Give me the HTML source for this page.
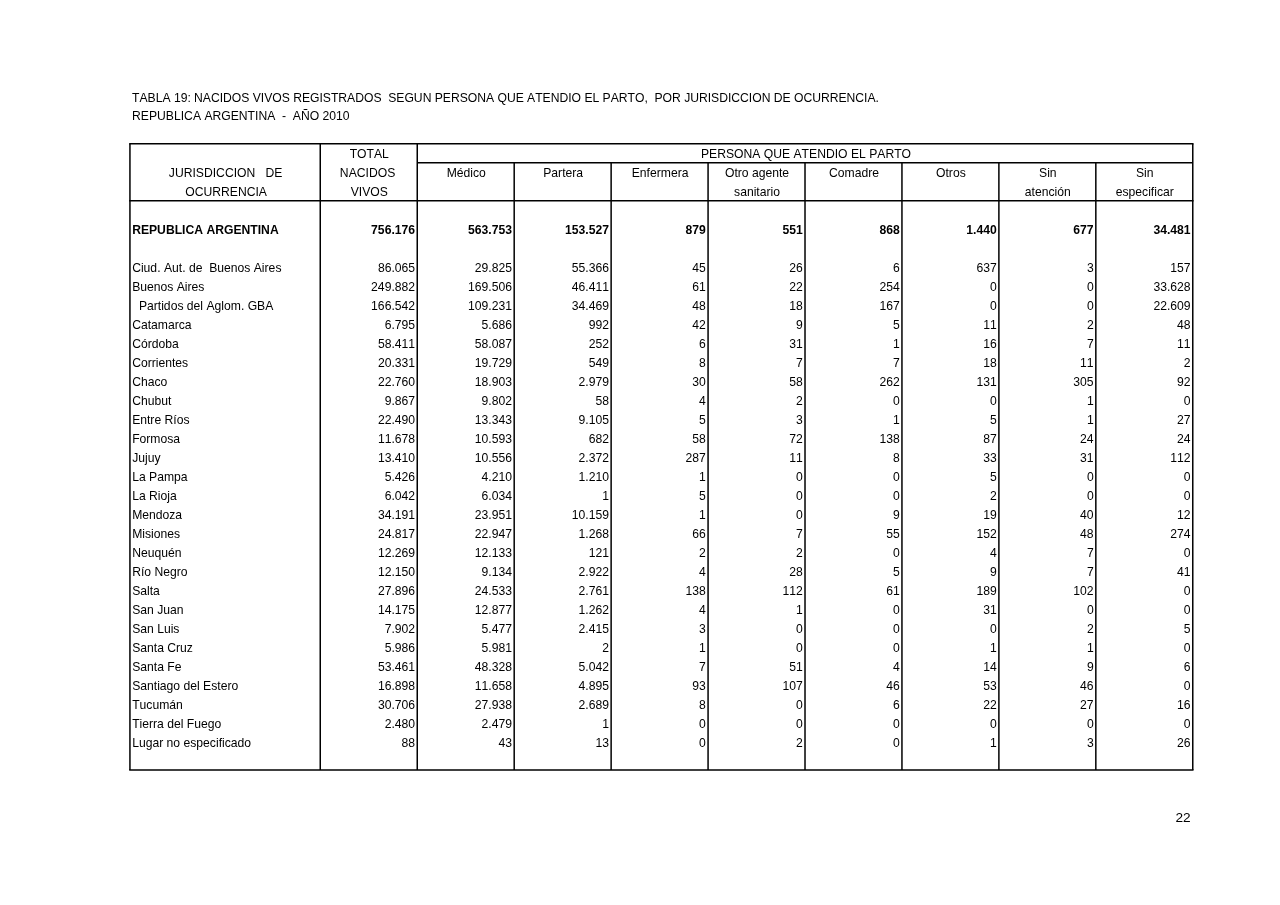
<!DOCTYPE html>
<html><head><meta charset="utf-8"><title>Tabla 19</title>
<style>
html,body{margin:0;padding:0;background:#fff;}
body{width:1280px;height:905px;position:relative;overflow:hidden;font-family:"Liberation Sans",sans-serif;font-size:12.16px;color:#000;}
#tx{position:absolute;left:0;top:0;width:1280px;height:905px;will-change:transform;transform:translateZ(0);}
.t{position:absolute;white-space:pre;line-height:19px;height:19px;font-kerning:none;font-variant-ligatures:none;font-feature-settings:"kern" 0,"liga" 0,"clig" 0;}
svg{position:absolute;left:0;top:0;}
svg line{stroke:#000;stroke-width:1.5;}
</style></head><body>
<svg width="1280" height="905" viewBox="0 0 1280 905">
<line x1="129.19" y1="143.78" x2="1193.52" y2="143.78"/>
<line x1="129.19" y1="769.9" x2="1193.52" y2="769.9"/>
<line x1="129.19" y1="200.74" x2="1193.52" y2="200.74"/>
<line x1="417.25" y1="162.76" x2="1192.77" y2="162.76"/>
<line x1="129.94" y1="143.78" x2="129.94" y2="769.9"/>
<line x1="320.25" y1="143.78" x2="320.25" y2="769.9"/>
<line x1="417.25" y1="143.78" x2="417.25" y2="769.9"/>
<line x1="514.19" y1="162.76" x2="514.19" y2="769.9"/>
<line x1="611.13" y1="162.76" x2="611.13" y2="769.9"/>
<line x1="708.07" y1="162.76" x2="708.07" y2="769.9"/>
<line x1="805.01" y1="162.76" x2="805.01" y2="769.9"/>
<line x1="901.95" y1="162.76" x2="901.95" y2="769.9"/>
<line x1="998.89" y1="162.76" x2="998.89" y2="769.9"/>
<line x1="1095.83" y1="162.76" x2="1095.83" y2="769.9"/>
<line x1="1192.77" y1="143.78" x2="1192.77" y2="769.9"/>
</svg>
<div id="tx">
<div class="t" style="top:89.00px;letter-spacing:-0.015px;left:132.10px;">TABLA 19: NACIDOS VIVOS REGISTRADOS  SEGUN PERSONA QUE ATENDIO EL PARTO,  POR JURISDICCION DE OCURRENCIA.</div>
<div class="t" style="top:107.00px;left:132.10px;">REPUBLICA ARGENTINA  -  AÑO 2010</div>
<div class="t" style="top:164.00px;left:130.44px;width:190.31px;text-align:center;">JURISDICCION   DE</div>
<div class="t" style="top:183.00px;left:130.94px;width:190.31px;text-align:center;">OCURRENCIA</div>
<div class="t" style="top:145.00px;left:320.75px;width:97.00px;text-align:center;">TOTAL</div>
<div class="t" style="top:164.00px;left:320.75px;width:97.00px;text-align:center;">NACIDOS </div>
<div class="t" style="top:183.00px;left:320.75px;width:97.00px;text-align:center;">VIVOS</div>
<div class="t" style="top:145.00px;left:418.25px;width:775.52px;text-align:center;">PERSONA QUE ATENDIO EL PARTO</div>
<div class="t" style="top:164.00px;left:417.75px;width:96.94px;text-align:center;">Médico</div>
<div class="t" style="top:164.00px;left:514.69px;width:96.94px;text-align:center;">Partera</div>
<div class="t" style="top:164.00px;left:611.63px;width:96.94px;text-align:center;">Enfermera</div>
<div class="t" style="top:164.00px;left:708.57px;width:96.94px;text-align:center;">Otro agente</div>
<div class="t" style="top:183.00px;left:708.57px;width:96.94px;text-align:center;">sanitario</div>
<div class="t" style="top:164.00px;left:805.51px;width:96.94px;text-align:center;">Comadre</div>
<div class="t" style="top:164.00px;left:902.45px;width:96.94px;text-align:center;">Otros</div>
<div class="t" style="top:164.00px;left:999.39px;width:96.94px;text-align:center;">Sin</div>
<div class="t" style="top:183.00px;left:999.39px;width:96.94px;text-align:center;">atención</div>
<div class="t" style="top:164.00px;left:1096.33px;width:96.94px;text-align:center;">Sin</div>
<div class="t" style="top:183.00px;left:1096.33px;width:96.94px;text-align:center;">especificar</div>
<div class="t" style="top:221.00px;font-weight:bold;left:132.14px;">REPUBLICA ARGENTINA</div>
<div class="t" style="top:221.00px;font-weight:bold;right:864.95px;">756.176</div>
<div class="t" style="top:221.00px;font-weight:bold;right:768.01px;">563.753</div>
<div class="t" style="top:221.00px;font-weight:bold;right:671.07px;">153.527</div>
<div class="t" style="top:221.00px;font-weight:bold;right:574.13px;">879</div>
<div class="t" style="top:221.00px;font-weight:bold;right:477.19px;">551</div>
<div class="t" style="top:221.00px;font-weight:bold;right:380.25px;">868</div>
<div class="t" style="top:221.00px;font-weight:bold;right:283.31px;">1.440</div>
<div class="t" style="top:221.00px;font-weight:bold;right:186.37px;">677</div>
<div class="t" style="top:221.00px;font-weight:bold;right:89.43px;">34.481</div>
<div class="t" style="top:259.00px;left:132.14px;">Ciud. Aut. de  Buenos Aires</div>
<div class="t" style="top:259.00px;right:864.95px;">86.065</div>
<div class="t" style="top:259.00px;right:768.01px;">29.825</div>
<div class="t" style="top:259.00px;right:671.07px;">55.366</div>
<div class="t" style="top:259.00px;right:574.13px;">45</div>
<div class="t" style="top:259.00px;right:477.19px;">26</div>
<div class="t" style="top:259.00px;right:380.25px;">6</div>
<div class="t" style="top:259.00px;right:283.31px;">637</div>
<div class="t" style="top:259.00px;right:186.37px;">3</div>
<div class="t" style="top:259.00px;right:89.43px;">157</div>
<div class="t" style="top:278.00px;left:132.14px;">Buenos Aires</div>
<div class="t" style="top:278.00px;right:864.95px;">249.882</div>
<div class="t" style="top:278.00px;right:768.01px;">169.506</div>
<div class="t" style="top:278.00px;right:671.07px;">46.411</div>
<div class="t" style="top:278.00px;right:574.13px;">61</div>
<div class="t" style="top:278.00px;right:477.19px;">22</div>
<div class="t" style="top:278.00px;right:380.25px;">254</div>
<div class="t" style="top:278.00px;right:283.31px;">0</div>
<div class="t" style="top:278.00px;right:186.37px;">0</div>
<div class="t" style="top:278.00px;right:89.43px;">33.628</div>
<div class="t" style="top:297.00px;left:132.14px;">  Partidos del Aglom. GBA</div>
<div class="t" style="top:297.00px;right:864.95px;">166.542</div>
<div class="t" style="top:297.00px;right:768.01px;">109.231</div>
<div class="t" style="top:297.00px;right:671.07px;">34.469</div>
<div class="t" style="top:297.00px;right:574.13px;">48</div>
<div class="t" style="top:297.00px;right:477.19px;">18</div>
<div class="t" style="top:297.00px;right:380.25px;">167</div>
<div class="t" style="top:297.00px;right:283.31px;">0</div>
<div class="t" style="top:297.00px;right:186.37px;">0</div>
<div class="t" style="top:297.00px;right:89.43px;">22.609</div>
<div class="t" style="top:316.00px;left:132.14px;">Catamarca</div>
<div class="t" style="top:316.00px;right:864.95px;">6.795</div>
<div class="t" style="top:316.00px;right:768.01px;">5.686</div>
<div class="t" style="top:316.00px;right:671.07px;">992</div>
<div class="t" style="top:316.00px;right:574.13px;">42</div>
<div class="t" style="top:316.00px;right:477.19px;">9</div>
<div class="t" style="top:316.00px;right:380.25px;">5</div>
<div class="t" style="top:316.00px;right:283.31px;">11</div>
<div class="t" style="top:316.00px;right:186.37px;">2</div>
<div class="t" style="top:316.00px;right:89.43px;">48</div>
<div class="t" style="top:335.00px;left:132.14px;">Córdoba</div>
<div class="t" style="top:335.00px;right:864.95px;">58.411</div>
<div class="t" style="top:335.00px;right:768.01px;">58.087</div>
<div class="t" style="top:335.00px;right:671.07px;">252</div>
<div class="t" style="top:335.00px;right:574.13px;">6</div>
<div class="t" style="top:335.00px;right:477.19px;">31</div>
<div class="t" style="top:335.00px;right:380.25px;">1</div>
<div class="t" style="top:335.00px;right:283.31px;">16</div>
<div class="t" style="top:335.00px;right:186.37px;">7</div>
<div class="t" style="top:335.00px;right:89.43px;">11</div>
<div class="t" style="top:354.00px;left:132.14px;">Corrientes</div>
<div class="t" style="top:354.00px;right:864.95px;">20.331</div>
<div class="t" style="top:354.00px;right:768.01px;">19.729</div>
<div class="t" style="top:354.00px;right:671.07px;">549</div>
<div class="t" style="top:354.00px;right:574.13px;">8</div>
<div class="t" style="top:354.00px;right:477.19px;">7</div>
<div class="t" style="top:354.00px;right:380.25px;">7</div>
<div class="t" style="top:354.00px;right:283.31px;">18</div>
<div class="t" style="top:354.00px;right:186.37px;">11</div>
<div class="t" style="top:354.00px;right:89.43px;">2</div>
<div class="t" style="top:373.00px;left:132.14px;">Chaco</div>
<div class="t" style="top:373.00px;right:864.95px;">22.760</div>
<div class="t" style="top:373.00px;right:768.01px;">18.903</div>
<div class="t" style="top:373.00px;right:671.07px;">2.979</div>
<div class="t" style="top:373.00px;right:574.13px;">30</div>
<div class="t" style="top:373.00px;right:477.19px;">58</div>
<div class="t" style="top:373.00px;right:380.25px;">262</div>
<div class="t" style="top:373.00px;right:283.31px;">131</div>
<div class="t" style="top:373.00px;right:186.37px;">305</div>
<div class="t" style="top:373.00px;right:89.43px;">92</div>
<div class="t" style="top:392.00px;left:132.14px;">Chubut</div>
<div class="t" style="top:392.00px;right:864.95px;">9.867</div>
<div class="t" style="top:392.00px;right:768.01px;">9.802</div>
<div class="t" style="top:392.00px;right:671.07px;">58</div>
<div class="t" style="top:392.00px;right:574.13px;">4</div>
<div class="t" style="top:392.00px;right:477.19px;">2</div>
<div class="t" style="top:392.00px;right:380.25px;">0</div>
<div class="t" style="top:392.00px;right:283.31px;">0</div>
<div class="t" style="top:392.00px;right:186.37px;">1</div>
<div class="t" style="top:392.00px;right:89.43px;">0</div>
<div class="t" style="top:411.00px;left:132.14px;">Entre Ríos</div>
<div class="t" style="top:411.00px;right:864.95px;">22.490</div>
<div class="t" style="top:411.00px;right:768.01px;">13.343</div>
<div class="t" style="top:411.00px;right:671.07px;">9.105</div>
<div class="t" style="top:411.00px;right:574.13px;">5</div>
<div class="t" style="top:411.00px;right:477.19px;">3</div>
<div class="t" style="top:411.00px;right:380.25px;">1</div>
<div class="t" style="top:411.00px;right:283.31px;">5</div>
<div class="t" style="top:411.00px;right:186.37px;">1</div>
<div class="t" style="top:411.00px;right:89.43px;">27</div>
<div class="t" style="top:430.00px;left:132.14px;">Formosa</div>
<div class="t" style="top:430.00px;right:864.95px;">11.678</div>
<div class="t" style="top:430.00px;right:768.01px;">10.593</div>
<div class="t" style="top:430.00px;right:671.07px;">682</div>
<div class="t" style="top:430.00px;right:574.13px;">58</div>
<div class="t" style="top:430.00px;right:477.19px;">72</div>
<div class="t" style="top:430.00px;right:380.25px;">138</div>
<div class="t" style="top:430.00px;right:283.31px;">87</div>
<div class="t" style="top:430.00px;right:186.37px;">24</div>
<div class="t" style="top:430.00px;right:89.43px;">24</div>
<div class="t" style="top:449.00px;left:132.14px;">Jujuy</div>
<div class="t" style="top:449.00px;right:864.95px;">13.410</div>
<div class="t" style="top:449.00px;right:768.01px;">10.556</div>
<div class="t" style="top:449.00px;right:671.07px;">2.372</div>
<div class="t" style="top:449.00px;right:574.13px;">287</div>
<div class="t" style="top:449.00px;right:477.19px;">11</div>
<div class="t" style="top:449.00px;right:380.25px;">8</div>
<div class="t" style="top:449.00px;right:283.31px;">33</div>
<div class="t" style="top:449.00px;right:186.37px;">31</div>
<div class="t" style="top:449.00px;right:89.43px;">112</div>
<div class="t" style="top:468.00px;left:132.14px;">La Pampa</div>
<div class="t" style="top:468.00px;right:864.95px;">5.426</div>
<div class="t" style="top:468.00px;right:768.01px;">4.210</div>
<div class="t" style="top:468.00px;right:671.07px;">1.210</div>
<div class="t" style="top:468.00px;right:574.13px;">1</div>
<div class="t" style="top:468.00px;right:477.19px;">0</div>
<div class="t" style="top:468.00px;right:380.25px;">0</div>
<div class="t" style="top:468.00px;right:283.31px;">5</div>
<div class="t" style="top:468.00px;right:186.37px;">0</div>
<div class="t" style="top:468.00px;right:89.43px;">0</div>
<div class="t" style="top:487.00px;left:132.14px;">La Rioja</div>
<div class="t" style="top:487.00px;right:864.95px;">6.042</div>
<div class="t" style="top:487.00px;right:768.01px;">6.034</div>
<div class="t" style="top:487.00px;right:671.07px;">1</div>
<div class="t" style="top:487.00px;right:574.13px;">5</div>
<div class="t" style="top:487.00px;right:477.19px;">0</div>
<div class="t" style="top:487.00px;right:380.25px;">0</div>
<div class="t" style="top:487.00px;right:283.31px;">2</div>
<div class="t" style="top:487.00px;right:186.37px;">0</div>
<div class="t" style="top:487.00px;right:89.43px;">0</div>
<div class="t" style="top:506.00px;left:132.14px;">Mendoza</div>
<div class="t" style="top:506.00px;right:864.95px;">34.191</div>
<div class="t" style="top:506.00px;right:768.01px;">23.951</div>
<div class="t" style="top:506.00px;right:671.07px;">10.159</div>
<div class="t" style="top:506.00px;right:574.13px;">1</div>
<div class="t" style="top:506.00px;right:477.19px;">0</div>
<div class="t" style="top:506.00px;right:380.25px;">9</div>
<div class="t" style="top:506.00px;right:283.31px;">19</div>
<div class="t" style="top:506.00px;right:186.37px;">40</div>
<div class="t" style="top:506.00px;right:89.43px;">12</div>
<div class="t" style="top:525.00px;left:132.14px;">Misiones</div>
<div class="t" style="top:525.00px;right:864.95px;">24.817</div>
<div class="t" style="top:525.00px;right:768.01px;">22.947</div>
<div class="t" style="top:525.00px;right:671.07px;">1.268</div>
<div class="t" style="top:525.00px;right:574.13px;">66</div>
<div class="t" style="top:525.00px;right:477.19px;">7</div>
<div class="t" style="top:525.00px;right:380.25px;">55</div>
<div class="t" style="top:525.00px;right:283.31px;">152</div>
<div class="t" style="top:525.00px;right:186.37px;">48</div>
<div class="t" style="top:525.00px;right:89.43px;">274</div>
<div class="t" style="top:544.00px;left:132.14px;">Neuquén</div>
<div class="t" style="top:544.00px;right:864.95px;">12.269</div>
<div class="t" style="top:544.00px;right:768.01px;">12.133</div>
<div class="t" style="top:544.00px;right:671.07px;">121</div>
<div class="t" style="top:544.00px;right:574.13px;">2</div>
<div class="t" style="top:544.00px;right:477.19px;">2</div>
<div class="t" style="top:544.00px;right:380.25px;">0</div>
<div class="t" style="top:544.00px;right:283.31px;">4</div>
<div class="t" style="top:544.00px;right:186.37px;">7</div>
<div class="t" style="top:544.00px;right:89.43px;">0</div>
<div class="t" style="top:563.00px;left:132.14px;">Río Negro</div>
<div class="t" style="top:563.00px;right:864.95px;">12.150</div>
<div class="t" style="top:563.00px;right:768.01px;">9.134</div>
<div class="t" style="top:563.00px;right:671.07px;">2.922</div>
<div class="t" style="top:563.00px;right:574.13px;">4</div>
<div class="t" style="top:563.00px;right:477.19px;">28</div>
<div class="t" style="top:563.00px;right:380.25px;">5</div>
<div class="t" style="top:563.00px;right:283.31px;">9</div>
<div class="t" style="top:563.00px;right:186.37px;">7</div>
<div class="t" style="top:563.00px;right:89.43px;">41</div>
<div class="t" style="top:582.00px;left:132.14px;">Salta</div>
<div class="t" style="top:582.00px;right:864.95px;">27.896</div>
<div class="t" style="top:582.00px;right:768.01px;">24.533</div>
<div class="t" style="top:582.00px;right:671.07px;">2.761</div>
<div class="t" style="top:582.00px;right:574.13px;">138</div>
<div class="t" style="top:582.00px;right:477.19px;">112</div>
<div class="t" style="top:582.00px;right:380.25px;">61</div>
<div class="t" style="top:582.00px;right:283.31px;">189</div>
<div class="t" style="top:582.00px;right:186.37px;">102</div>
<div class="t" style="top:582.00px;right:89.43px;">0</div>
<div class="t" style="top:601.00px;left:132.14px;">San Juan</div>
<div class="t" style="top:601.00px;right:864.95px;">14.175</div>
<div class="t" style="top:601.00px;right:768.01px;">12.877</div>
<div class="t" style="top:601.00px;right:671.07px;">1.262</div>
<div class="t" style="top:601.00px;right:574.13px;">4</div>
<div class="t" style="top:601.00px;right:477.19px;">1</div>
<div class="t" style="top:601.00px;right:380.25px;">0</div>
<div class="t" style="top:601.00px;right:283.31px;">31</div>
<div class="t" style="top:601.00px;right:186.37px;">0</div>
<div class="t" style="top:601.00px;right:89.43px;">0</div>
<div class="t" style="top:620.00px;left:132.14px;">San Luis</div>
<div class="t" style="top:620.00px;right:864.95px;">7.902</div>
<div class="t" style="top:620.00px;right:768.01px;">5.477</div>
<div class="t" style="top:620.00px;right:671.07px;">2.415</div>
<div class="t" style="top:620.00px;right:574.13px;">3</div>
<div class="t" style="top:620.00px;right:477.19px;">0</div>
<div class="t" style="top:620.00px;right:380.25px;">0</div>
<div class="t" style="top:620.00px;right:283.31px;">0</div>
<div class="t" style="top:620.00px;right:186.37px;">2</div>
<div class="t" style="top:620.00px;right:89.43px;">5</div>
<div class="t" style="top:639.00px;left:132.14px;">Santa Cruz</div>
<div class="t" style="top:639.00px;right:864.95px;">5.986</div>
<div class="t" style="top:639.00px;right:768.01px;">5.981</div>
<div class="t" style="top:639.00px;right:671.07px;">2</div>
<div class="t" style="top:639.00px;right:574.13px;">1</div>
<div class="t" style="top:639.00px;right:477.19px;">0</div>
<div class="t" style="top:639.00px;right:380.25px;">0</div>
<div class="t" style="top:639.00px;right:283.31px;">1</div>
<div class="t" style="top:639.00px;right:186.37px;">1</div>
<div class="t" style="top:639.00px;right:89.43px;">0</div>
<div class="t" style="top:658.00px;left:132.14px;">Santa Fe</div>
<div class="t" style="top:658.00px;right:864.95px;">53.461</div>
<div class="t" style="top:658.00px;right:768.01px;">48.328</div>
<div class="t" style="top:658.00px;right:671.07px;">5.042</div>
<div class="t" style="top:658.00px;right:574.13px;">7</div>
<div class="t" style="top:658.00px;right:477.19px;">51</div>
<div class="t" style="top:658.00px;right:380.25px;">4</div>
<div class="t" style="top:658.00px;right:283.31px;">14</div>
<div class="t" style="top:658.00px;right:186.37px;">9</div>
<div class="t" style="top:658.00px;right:89.43px;">6</div>
<div class="t" style="top:677.00px;left:132.14px;">Santiago del Estero</div>
<div class="t" style="top:677.00px;right:864.95px;">16.898</div>
<div class="t" style="top:677.00px;right:768.01px;">11.658</div>
<div class="t" style="top:677.00px;right:671.07px;">4.895</div>
<div class="t" style="top:677.00px;right:574.13px;">93</div>
<div class="t" style="top:677.00px;right:477.19px;">107</div>
<div class="t" style="top:677.00px;right:380.25px;">46</div>
<div class="t" style="top:677.00px;right:283.31px;">53</div>
<div class="t" style="top:677.00px;right:186.37px;">46</div>
<div class="t" style="top:677.00px;right:89.43px;">0</div>
<div class="t" style="top:696.00px;left:132.14px;">Tucumán</div>
<div class="t" style="top:696.00px;right:864.95px;">30.706</div>
<div class="t" style="top:696.00px;right:768.01px;">27.938</div>
<div class="t" style="top:696.00px;right:671.07px;">2.689</div>
<div class="t" style="top:696.00px;right:574.13px;">8</div>
<div class="t" style="top:696.00px;right:477.19px;">0</div>
<div class="t" style="top:696.00px;right:380.25px;">6</div>
<div class="t" style="top:696.00px;right:283.31px;">22</div>
<div class="t" style="top:696.00px;right:186.37px;">27</div>
<div class="t" style="top:696.00px;right:89.43px;">16</div>
<div class="t" style="top:715.00px;left:132.14px;">Tierra del Fuego</div>
<div class="t" style="top:715.00px;right:864.95px;">2.480</div>
<div class="t" style="top:715.00px;right:768.01px;">2.479</div>
<div class="t" style="top:715.00px;right:671.07px;">1</div>
<div class="t" style="top:715.00px;right:574.13px;">0</div>
<div class="t" style="top:715.00px;right:477.19px;">0</div>
<div class="t" style="top:715.00px;right:380.25px;">0</div>
<div class="t" style="top:715.00px;right:283.31px;">0</div>
<div class="t" style="top:715.00px;right:186.37px;">0</div>
<div class="t" style="top:715.00px;right:89.43px;">0</div>
<div class="t" style="top:734.00px;left:132.14px;">Lugar no especificado</div>
<div class="t" style="top:734.00px;right:864.95px;">88</div>
<div class="t" style="top:734.00px;right:768.01px;">43</div>
<div class="t" style="top:734.00px;right:671.07px;">13</div>
<div class="t" style="top:734.00px;right:574.13px;">0</div>
<div class="t" style="top:734.00px;right:477.19px;">2</div>
<div class="t" style="top:734.00px;right:380.25px;">0</div>
<div class="t" style="top:734.00px;right:283.31px;">1</div>
<div class="t" style="top:734.00px;right:186.37px;">3</div>
<div class="t" style="top:734.00px;right:89.43px;">26</div>
<div class="t" style="top:808.00px;font-size:13.68px;right:89.40px;">22</div>
</div>
</body></html>
